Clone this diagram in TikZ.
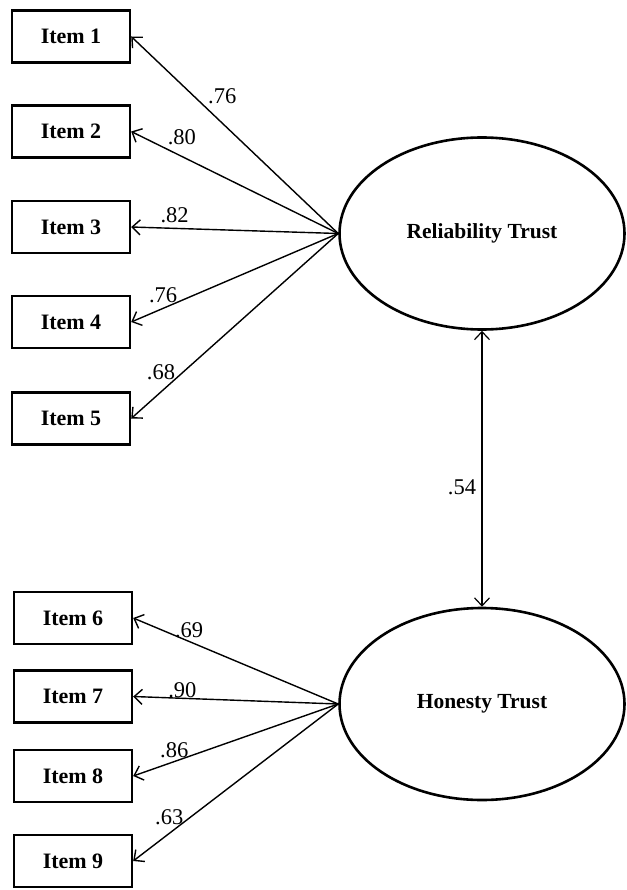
\documentclass[tikz,border=0pt]{standalone}
\usepackage{fontspec}
\setmainfont{Liberation Serif}
\usetikzlibrary{shapes.geometric,arrows.meta}

\tikzset{
  item/.style={draw,line width=2.4pt,minimum width=118pt,minimum height=52pt,inner sep=0pt,font=\fontsize{22}{26}\selectfont\bfseries},
  factor/.style={draw,ellipse,line width=2.6pt,minimum width=285pt,minimum height=192pt,inner sep=0pt,font=\fontsize{21.5}{26}\selectfont\bfseries},
  load/.style={line width=1.4pt,-{Straight Barb[length=8pt,width=15pt,line width=1.4pt]}},
  lbl/.style={font=\fontsize{22.5}{26}\selectfont,inner sep=0pt,anchor=center}
}

\begin{document}
\begin{tikzpicture}[x=1pt,y=-1pt]
      \useasboundingbox (0,0) rectangle (626,890);
      \node[factor] (rel) at (482,233.5) {Reliability Trust};
      \node[factor] (hon) at (482,704) {Honesty Trust};
      \node[item] (i1) at (71,36.5) {Item 1};
      \node[item] (i2) at (71,131.5) {Item 2};
      \node[item] (i3) at (71,227) {Item 3};
      \node[item] (i4) at (71,322) {Item 4};
      \node[item] (i5) at (71,418.5) {Item 5};
      \node[item] (i6) at (73,618) {Item 6};
      \node[item] (i7) at (73,696.5) {Item 7};
      \node[item] (i8) at (73,776) {Item 8};
      \node[item] (i9) at (73,861) {Item 9};
      \draw[load] (rel.west) -- node[lbl,pos=0.56,yshift=27pt]{.76} (i1.east);
      \draw[load] (rel.west) -- node[lbl,pos=0.755,yshift=19pt]{.80} (i2.east);
      \draw[load] (rel.west) -- node[lbl,pos=0.79,yshift=13pt]{.82} (i3.east);
      \draw[load] (rel.west) -- node[lbl,pos=0.846,yshift=13pt]{.76} (i4.east);
      \draw[load] (rel.west) -- node[lbl,pos=0.856,yshift=20pt]{.68} (i5.east);
      \draw[load] (hon.west) -- node[lbl,pos=0.727,yshift=11.5pt]{.69} (i6.east);
      \draw[load] (hon.west) -- node[lbl,pos=0.76,yshift=8pt]{.90} (i7.east);
      \draw[load] (hon.west) -- node[lbl,pos=0.8,yshift=11.5pt]{.86} (i8.east);
      \draw[load] (hon.west) -- node[lbl,pos=0.824,yshift=16pt]{.63} (i9.east);
      \draw[line width=1.2pt,{Straight Barb[length=8pt,width=15pt,line width=1.2pt]}-{Straight Barb[length=8pt,width=15pt,line width=1.2pt]}] (rel.south) -- node[lbl,pos=0.567,xshift=-20pt]{.54} (hon.north);
    \end{tikzpicture}
\end{document}
